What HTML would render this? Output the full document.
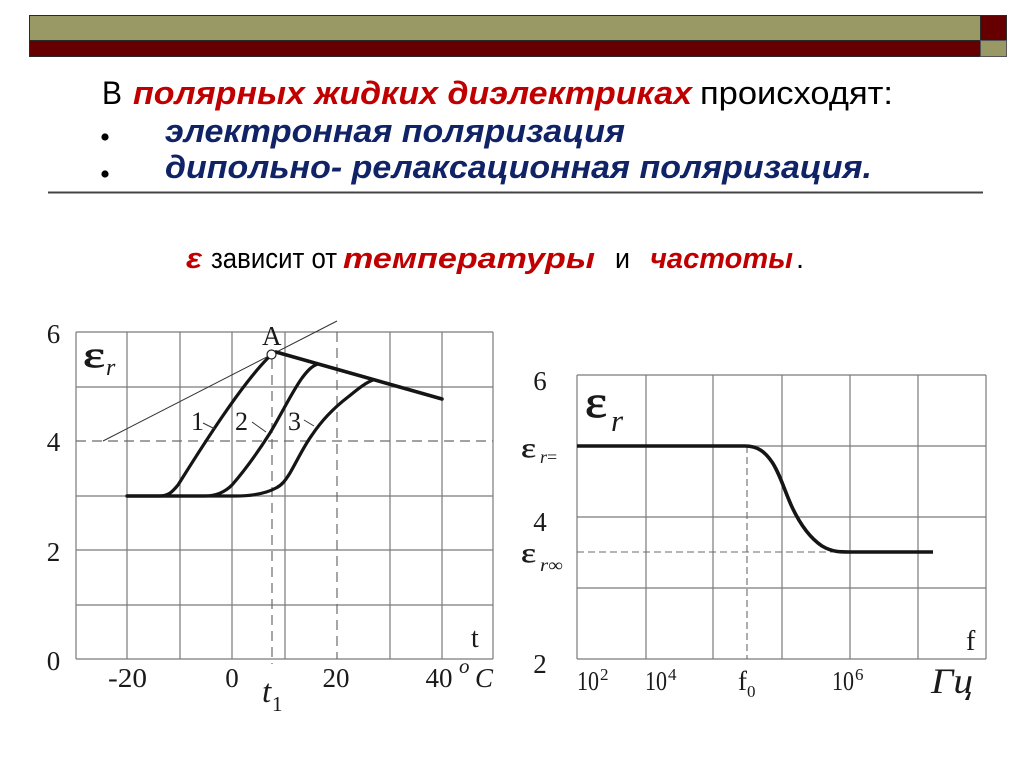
<!DOCTYPE html>
<html>
<head>
<meta charset="utf-8">
<style>
  html, body { margin:0; padding:0; background:#ffffff; }
  body { width:1024px; height:767px; overflow:hidden; }
  svg { display:block; }
  .sans { font-family: "Liberation Sans", "DejaVu Sans", sans-serif; }
  .serif { font-family: "Liberation Serif", "DejaVu Serif", serif; }
</style>
</head>
<body>
<svg width="1024" height="767" viewBox="0 0 1024 767" xmlns="http://www.w3.org/2000/svg">
  <rect x="0" y="0" width="1024" height="767" fill="#ffffff"/>

  <!-- Header bar -->
  <rect x="29.5" y="15.5" width="951" height="25" fill="#999966" stroke="#2a2a2a" stroke-width="1"/>
  <rect x="29.5" y="40.5" width="951" height="16" fill="#660000" stroke="#2a2a2a" stroke-width="1"/>
  <rect x="980.5" y="15.5" width="26" height="25" fill="#660000" stroke="#2a2a2a" stroke-width="1"/>
  <rect x="980.5" y="40.5" width="26" height="16" fill="#999966" stroke="#555" stroke-width="1"/>

  <!-- Title lines -->
  <g class="sans" font-size="32">
    <text x="102" y="104" fill="#000" textLength="20" lengthAdjust="spacingAndGlyphs">В</text>
    <text x="133" y="104" fill="#c00000" font-weight="bold" font-style="italic" textLength="559" lengthAdjust="spacingAndGlyphs">полярных жидких диэлектриках</text>
    <text x="700" y="104" fill="#000" textLength="193" lengthAdjust="spacingAndGlyphs">происходят:</text>

    <circle cx="105" cy="137" r="3.6" fill="#000"/>
    <text x="165" y="142" fill="#0f2366" font-weight="bold" font-style="italic" textLength="460" lengthAdjust="spacingAndGlyphs">электронная поляризация</text>

    <circle cx="105" cy="174" r="3.6" fill="#000"/>
    <text x="165" y="178" fill="#0f2366" font-weight="bold" font-style="italic" textLength="707" lengthAdjust="spacingAndGlyphs">дипольно- релаксационная поляризация.</text>
  </g>
  <line x1="48" y1="192.5" x2="983" y2="192.5" stroke="#444" stroke-width="2"/>

  <!-- epsilon line -->
  <g class="sans" font-size="29">
    <text x="186" y="268" fill="#c00000" font-weight="bold" font-style="italic" textLength="16" lengthAdjust="spacingAndGlyphs">ε</text>
    <text x="211" y="268" fill="#000" textLength="126" lengthAdjust="spacingAndGlyphs">зависит от</text>
    <text x="343" y="268" fill="#c00000" font-weight="bold" font-style="italic" textLength="252" lengthAdjust="spacingAndGlyphs">температуры</text>
    <text x="615" y="268" fill="#000" textLength="15" lengthAdjust="spacingAndGlyphs">и</text>
    <text x="650" y="268" fill="#c00000" font-weight="bold" font-style="italic" textLength="143" lengthAdjust="spacingAndGlyphs">частоты</text>
    <text x="796" y="268" fill="#000">.</text>
  </g>

  <!-- ===== LEFT CHART ===== -->
  <g stroke="#7a7a7a" stroke-width="1.2" fill="none">
    <line x1="76" y1="332" x2="76" y2="659"/>
    <line x1="127" y1="332" x2="127" y2="659"/>
    <line x1="180" y1="332" x2="180" y2="659"/>
    <line x1="232" y1="332" x2="232" y2="659"/>
    <line x1="285" y1="332" x2="285" y2="659"/>
    <line x1="390" y1="332" x2="390" y2="659"/>
    <line x1="442" y1="332" x2="442" y2="659"/>
    <line x1="493" y1="332" x2="493" y2="659"/>
    <line x1="76" y1="332" x2="493" y2="332"/>
    <line x1="76" y1="387" x2="493" y2="387"/>
    <line x1="76" y1="496" x2="493" y2="496"/>
    <line x1="76" y1="550" x2="493" y2="550"/>
    <line x1="76" y1="605" x2="493" y2="605"/>
    <line x1="76" y1="659" x2="493" y2="659"/>
  </g>
  <g stroke="#6a6a6a" stroke-width="1.2" fill="none" stroke-dasharray="10,6">
    <line x1="76" y1="441" x2="493" y2="441"/>
    <line x1="337" y1="332" x2="337" y2="659"/>
    <line x1="272" y1="359" x2="272" y2="664"/>
  </g>
  <!-- thin tangent line -->
  <line x1="103" y1="441" x2="337" y2="321" stroke="#333" stroke-width="1"/>
  <!-- curves -->
  <g stroke="#151515" stroke-width="3.2" fill="none" stroke-linecap="round" stroke-linejoin="round">
    <path d="M127,496 L160,496 C169,496 173,491 178,485 C195,458 240,385 270,356"/>
    <path d="M127,496 L205,496 C218,496 226,491 232,485 C245,470 258,452 270,433 C282,413 292,392 302,378 C308,370 312,366 318,364"/>
    <path d="M127,496 L235,496 C250,496 265,494 276,488 C282,485 285,481 290,473 C298,459 304,446 312,435 C322,420 335,407 348,397 C358,389 365,383 373,380"/>
    <path d="M276,352 L442,399" stroke-width="3.6"/>
  </g>
  <circle cx="271.5" cy="354.5" r="4.5" fill="#fff" stroke="#222" stroke-width="1.2"/>
  <!-- leaders -->
  <g stroke="#333" stroke-width="1">
    <line x1="203" y1="423" x2="215" y2="429"/>
    <line x1="252" y1="422" x2="266" y2="432"/>
    <line x1="304" y1="420" x2="314" y2="426"/>
  </g>
  <g class="serif" fill="#1a1a1a" font-size="27">
    <text x="53.5" y="343" text-anchor="middle">6</text>
    <text x="53.5" y="451" text-anchor="middle">4</text>
    <text x="53.5" y="561" text-anchor="middle">2</text>
    <text x="53.5" y="670" text-anchor="middle">0</text>
    <text x="108" y="687" textLength="39" lengthAdjust="spacingAndGlyphs">-20</text>
    <text x="232" y="687" text-anchor="middle">0</text>
    <text x="336" y="687" text-anchor="middle">20</text>
    <text x="439" y="687" text-anchor="middle">40</text>
    <text x="459" y="673" font-style="italic" font-size="21">o</text>
    <text x="475" y="687" font-style="italic" font-size="27">C</text>
    <text x="471" y="647" font-size="28">t</text>
    <text x="262" y="345" font-size="27">A</text>
    <text x="191" y="430" font-size="26">1</text>
    <text x="235" y="430" font-size="26">2</text>
    <text x="288" y="430" font-size="26">3</text>
    <text x="262" y="702" font-style="italic" font-size="33">t</text>
    <text x="272" y="711" font-size="21">1</text>
    <text x="83" y="367" font-size="37" textLength="22" lengthAdjust="spacingAndGlyphs" stroke="#1a1a1a" stroke-width="0.7">ε</text>
    <text x="106" y="375" font-style="italic" font-size="24">r</text>
  </g>

  <!-- ===== RIGHT CHART ===== -->
  <g stroke="#7a7a7a" stroke-width="1.2" fill="none">
    <line x1="577" y1="375" x2="577" y2="659"/>
    <line x1="646" y1="375" x2="646" y2="659"/>
    <line x1="713" y1="375" x2="713" y2="659"/>
    <line x1="782" y1="375" x2="782" y2="659"/>
    <line x1="850" y1="375" x2="850" y2="659"/>
    <line x1="918" y1="375" x2="918" y2="659"/>
    <line x1="986" y1="375" x2="986" y2="659"/>
    <line x1="577" y1="375" x2="986" y2="375"/>
    <line x1="577" y1="446" x2="986" y2="446"/>
    <line x1="577" y1="517" x2="986" y2="517"/>
    <line x1="577" y1="588" x2="986" y2="588"/>
    <line x1="577" y1="659" x2="986" y2="659"/>
  </g>
  <g stroke="#6a6a6a" stroke-width="1.1" fill="none" stroke-dasharray="7,4">
    <line x1="747" y1="446" x2="747" y2="659"/>
    <line x1="577" y1="552" x2="850" y2="552"/>
  </g>
  <path d="M577,446 L745,446 C758,446 765,452 772,462 C780,474 785,492 792,507 C800,524 810,538 822,546 C832,552 840,552 850,552 L933,552"
        stroke="#151515" stroke-width="3.6" fill="none" stroke-linecap="butt" stroke-linejoin="round"/>
  <g class="serif" fill="#1a1a1a" font-size="27">
    <text x="540" y="390" text-anchor="middle">6</text>
    <text x="540" y="531" text-anchor="middle">4</text>
    <text x="540" y="673" text-anchor="middle">2</text>
    <text x="521" y="457" font-size="27" textLength="15" lengthAdjust="spacingAndGlyphs" stroke="#1a1a1a" stroke-width="0.4">ε</text>
    <text x="540" y="463" font-size="18"><tspan font-style="italic">r</tspan>=</text>
    <text x="521" y="562" font-size="27" textLength="15" lengthAdjust="spacingAndGlyphs" stroke="#1a1a1a" stroke-width="0.4">ε</text>
    <text x="540" y="571" font-size="18" textLength="23" lengthAdjust="spacingAndGlyphs"><tspan font-style="italic">r</tspan>∞</text>
    <text x="585" y="417" font-size="45" textLength="22" lengthAdjust="spacingAndGlyphs" stroke="#1a1a1a" stroke-width="0.8">ε</text>
    <text x="611" y="431" font-style="italic" font-size="31">r</text>
    <text x="966" y="650" font-size="28">f</text>
    <text x="577" y="690" textLength="22" lengthAdjust="spacingAndGlyphs">10</text>
    <text x="600" y="680" font-size="17">2</text>
    <text x="645" y="690" textLength="22" lengthAdjust="spacingAndGlyphs">10</text>
    <text x="668" y="680" font-size="17">4</text>
    <text x="738" y="690">f</text>
    <text x="747" y="697" font-size="17">0</text>
    <text x="832" y="690" textLength="22" lengthAdjust="spacingAndGlyphs">10</text>
    <text x="855" y="680" font-size="17">6</text>
    <text x="931" y="693" font-style="italic" font-size="36" textLength="42" lengthAdjust="spacingAndGlyphs">Гц</text>
  </g>
</svg>
</body>
</html>
